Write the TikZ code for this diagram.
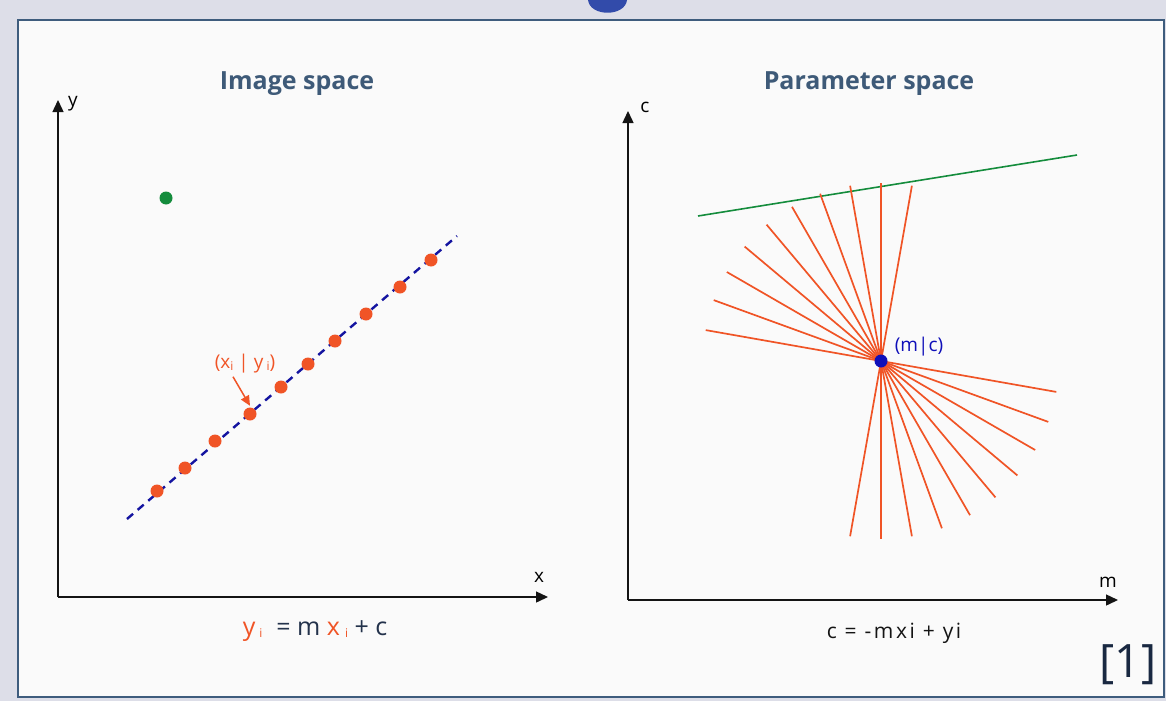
\documentclass[tikz,border=0pt]{standalone}
\usepackage{fontspec}
\setmainfont{Open Sans}
\usetikzlibrary{arrows.meta, positioning}

\definecolor{slidebg}{RGB}{221,222,232}
\definecolor{panelbg}{RGB}{250,250,250}
\definecolor{framecol}{RGB}{62,92,125}
\definecolor{titleblue}{RGB}{62,90,120}
\definecolor{axiscol}{RGB}{20,20,20}
\definecolor{ptorange}{RGB}{240,84,38}
\definecolor{fitblue}{RGB}{20,20,160}
\definecolor{hubblue}{RGB}{15,15,185}
\definecolor{linegreen}{RGB}{20,140,60}
\definecolor{eqdark}{RGB}{35,50,75}
\definecolor{refnavy}{RGB}{25,40,65}
\definecolor{blobblue}{RGB}{50,75,170}

\newcommand{\subi}{\raisebox{-2pt}{\fontsize{12}{13}\selectfont i}}

\begin{document}
\begin{tikzpicture}[
  x=1pt, y=-1pt,
  every node/.style={font=\fontsize{19}{22}\selectfont, inner sep=0pt},
  title/.style={font=\fontsize{25}{30}\selectfont\bfseries, text=titleblue},
  axis/.style={line width=1.4pt, draw=axiscol, -{Triangle[length=12pt, width=11pt]}},
  dot/.style={circle, fill=ptorange, minimum size=13pt, inner sep=0pt},
  ray/.style={line width=1.7pt, draw=ptorange},
  fit/.style={line width=2.4pt, draw=fitblue, dash pattern=on 8pt off 6pt}
]

% Slide and panel
\useasboundingbox (0,0) rectangle (1166,701);
\fill[slidebg] (0,0) rectangle (1166,701);
\fill[blobblue] (588,0) .. controls (590,17) and (625,17) .. (627,0) -- cycle;
\draw[line width=2.5pt, draw=framecol, fill=panelbg] (18,20) rectangle (1164,697);

% Image space
\node[title] (imgtitle) at (297,84) {Image space};
\coordinate (o1) at (58,597);
\coordinate (ytip) at (58,100);
\coordinate (xtip) at (548,597);
\draw[axis] (o1) -- (ytip);
\draw[axis] (o1) -- (xtip);
\node (ylab) at (73,104) {y};
\node (xlab) at (539,577) {x};

\node[circle, fill=linegreen, minimum size=13pt] (outlier) at (166,198) {};

\coordinate (fitA) at (127,519);
\coordinate (fitB) at (457,236);
\draw[fit] (fitA) -- (fitB);

\foreach \n/\px/\py in {1/157/491, 2/185/468, 3/215/441, 4/250/414, 5/281/387,
                        6/308/364, 7/335/341, 8/366/314, 9/400/287, 10/431/260}
  \node[dot] (p\n) at (\px,\py) {};

\node[text=ptorange] (ptlab) at (245,364) {(x\subi\ | y\,\subi)};
\draw[line width=1.5pt, draw=ptorange, -{Triangle[length=10pt, width=9pt]}]
  ([xshift=-12pt, yshift=-3pt]ptlab.south) -- ([yshift=1.5pt]p4.north);

\node[anchor=base, text=eqdark, font=\fontsize{25}{29}\selectfont] (eqimg) at (315,635)
  {\textcolor{ptorange}{y\hspace{4pt}\subi}\hspace{14pt}= m \textcolor{ptorange}{x\hspace{5pt}\subi} + c};

% Parameter space
\node[title] (partitle) at (869,84) {Parameter space};
\coordinate (o2) at (628,600);
\coordinate (ctip) at (628,111);
\coordinate (mtip) at (1118,600);
\draw[axis] (o2) -- (ctip);
\draw[axis] (o2) -- (mtip);
\node (clab) at (645,107) {c};
\node (mlab) at (1108,582) {m};

\coordinate (gA) at (698,216);
\coordinate (gB) at (1077,155);
\draw[line width=1.6pt, draw=linegreen] (gA) -- (gB);

\coordinate (hub) at (881,361);
\foreach \a in {80,90,...,170}
  \draw[ray] ([shift={(-\a:178)}]hub) -- ([shift={(180-\a:178)}]hub);
\node[circle, fill=hubblue, minimum size=13pt] (mc) at (hub) {};
\node[text=hubblue] (mclab) at (919,347) {(m|c)};

\node[text=axiscol, font=\fontsize{21}{24}\selectfont\addfontfeature{LetterSpace=12}] (eqpar) at (894,633)
  {c = -mxi + yi};

\node[text=refnavy, font=\fontsize{46}{50}\selectfont] (ref) at (1128,665) {[1]};

\end{tikzpicture}
\end{document}
